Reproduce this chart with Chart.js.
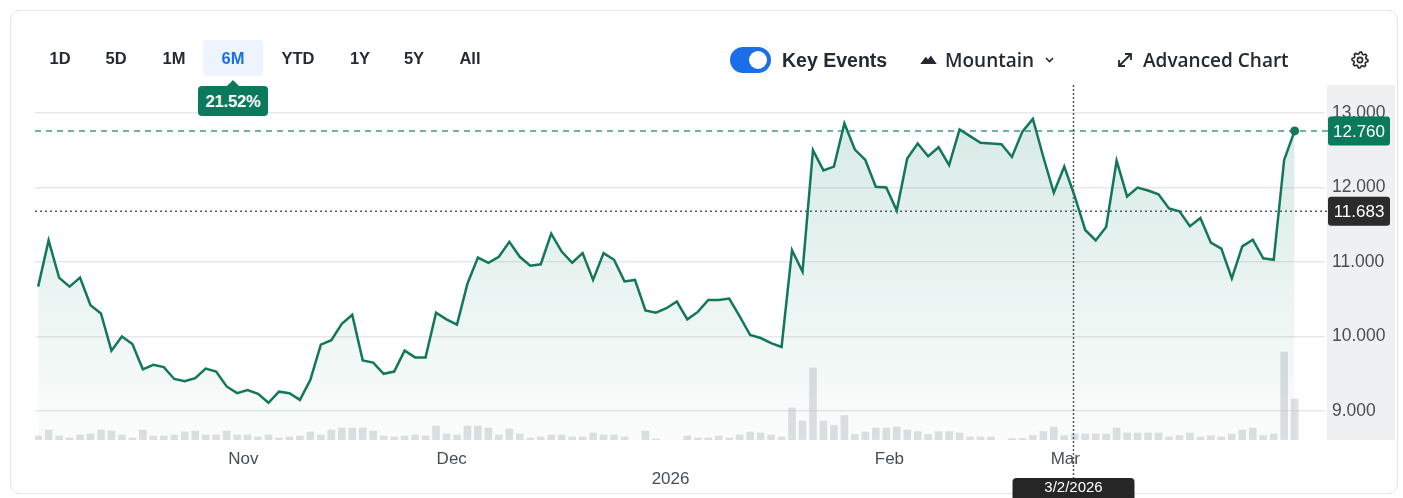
<!DOCTYPE html>
<html>
<head>
<meta charset="utf-8">
<title>6M price chart</title>
<script src="https://cdn.jsdelivr.net/npm/chart.js@4.4.1/dist/chart.umd.min.js"></script>
<style>
  html, body { margin: 0; padding: 0; background: #ffffff; }
  body { width: 1403px; height: 498px; position: relative; overflow: hidden;
         font-family: "Liberation Sans", Arial, sans-serif; color: #232a31; }
  #card { position: absolute; left: 10px; top: 10px; width: 1388px; height: 484px;
          border: 1px solid #e4e5e7; border-radius: 10px; box-sizing: border-box; }
  #chart { position: absolute; left: 0; top: 0; }
  .tab { position: absolute; top: 58px; transform: translate(-50%, -50%);
         font-weight: 700; font-size: 16.5px; white-space: nowrap; }
  #tab-active { position: absolute; left: 203px; top: 40px; width: 60px; height: 36px;
                background: #eef4fd; border-radius: 4px; }
  #badge { position: absolute; left: 198px; top: 86px; width: 70px; height: 30px;
           background: #0b7a5c; color: #fff; border-radius: 4px; font-weight: 700;
           font-size: 16.5px; line-height: 30px; text-align: center; letter-spacing: -0.2px; }
  #badge:before { content: ""; position: absolute; left: 29px; top: -6px;
                  border-left: 6px solid transparent; border-right: 6px solid transparent;
                  border-bottom: 6px solid #0b7a5c; }
  #toggle { position: absolute; left: 730px; top: 47px; width: 41px; height: 26px;
            background: #1a6ee8; border-radius: 13px; }
  #knob { position: absolute; left: 19px; top: 4px; width: 18px; height: 18px;
          background: #fff; border-radius: 50%; }
  .ctl { position: absolute; top: 60px; transform: translateY(-50%); white-space: nowrap; }
  #key { left: 782px; font-weight: 700; font-size: 19.5px; }
  #mountain { left: 945px; font-family: "Open Sans", "Liberation Sans", sans-serif; font-weight: 600; font-size: 19px; }
  #adv { left: 1143px; font-family: "Open Sans", "Liberation Sans", sans-serif; font-weight: 600; font-size: 19px; }
  svg.icon { position: absolute; overflow: visible; }
</style>
</head>
<body>
<div id="card"></div>
<canvas id="chart" width="1403" height="498"></canvas>

<div id="tab-active"></div>
<div id="tabs"></div>
<div id="badge">21.52%</div>

<div id="toggle"><div id="knob"></div></div>
<div class="ctl" id="key">Key Events</div>

<svg class="icon" style="left:920px;top:54px" width="17" height="11" viewBox="0 0 18 12">
  <path d="M0 11 L6 3 L8.5 6 L11.5 1.5 L18 11 Z" fill="#232a31"/>
</svg>
<div class="ctl" id="mountain">Mountain</div>
<svg class="icon" style="left:1045px;top:57px" width="9" height="6" viewBox="0 0 9 6">
  <polyline points="1,1 4.5,4.5 8,1" fill="none" stroke="#232a31" stroke-width="1.6"/>
</svg>

<svg class="icon" style="left:1117px;top:52px" width="16" height="16" viewBox="0 0 16 16">
  <line x1="2" y1="14" x2="14" y2="2" stroke="#232a31" stroke-width="1.8"/>
  <polyline points="8,2 14,2 14,8" fill="none" stroke="#232a31" stroke-width="1.8"/>
  <polyline points="2,8 2,14 8,14" fill="none" stroke="#232a31" stroke-width="1.8"/>
</svg>
<div class="ctl" id="adv">Advanced Chart</div>

<svg class="icon" id="gear" style="left:1351px;top:51px" width="18" height="18" viewBox="-9 -9 18 18"></svg>

<script>
// ---- Range selector ----
const rangeLabels = ['1D', '5D', '1M', '6M', 'YTD', '1Y', '5Y', 'All'];
const rangeCenters = [60, 116, 174, 233, 298, 360, 414, 470];
const activeRange = '6M';

// ---- Daily closes (trading days, last 6 months) ----
const closes = [
  10.67, 11.29, 10.79, 10.67, 10.79, 10.42, 10.31, 9.81, 10.00, 9.90,
  9.56, 9.62, 9.59, 9.43, 9.40, 9.44, 9.57, 9.53, 9.33, 9.24,
  9.28, 9.23, 9.11, 9.26, 9.24, 9.15, 9.42, 9.89, 9.95, 10.17,
  10.29, 9.68, 9.65, 9.50, 9.53, 9.81, 9.72, 9.72, 10.32, 10.23,
  10.16, 10.71, 11.06, 10.99, 11.07, 11.27, 11.07, 10.95, 10.97, 11.38,
  11.14, 10.99, 11.12, 10.76, 11.12, 11.03, 10.74, 10.76, 10.35, 10.32,
  10.38, 10.47, 10.23, 10.33, 10.49, 10.49, 10.51, 10.27, 10.02, 9.98,
  9.91, 9.86, 11.16, 10.87, 12.50, 12.23, 12.28, 12.86, 12.51, 12.37,
  12.01, 12.00, 11.69, 12.39, 12.59, 12.42, 12.54, 12.30, 12.78, 12.69,
  12.60, 12.59, 12.58, 12.41, 12.75, 12.92, 12.41, 11.93, 12.28, 11.88,
  11.43, 11.29, 11.47, 12.36, 11.88, 12.00, 11.96, 11.91, 11.72, 11.68,
  11.48, 11.59, 11.26, 11.18, 10.78, 11.21, 11.30, 11.05, 11.03, 12.37,
  12.76
];

// ---- Daily volume, millions of shares (null = no print) ----
const volumes = [
  0.04, 0.10, 0.04, 0.02, 0.05, 0.06, 0.10, 0.09, 0.05, 0.02,
  0.10, 0.04, 0.04, 0.05, 0.08, 0.09, 0.05, 0.05, 0.09, 0.05,
  0.05, 0.03, 0.05, 0.02, 0.03, 0.04, 0.08, 0.05, 0.10, 0.12,
  0.12, 0.12, 0.09, 0.04, 0.03, 0.04, 0.05, 0.04, 0.14, 0.06,
  0.05, 0.14, 0.14, 0.12, 0.05, 0.11, 0.06, 0.02, 0.03, 0.05,
  0.05, 0.03, 0.03, 0.07, 0.05, 0.05, 0.03, null, 0.09, 0.01,
  null, null, 0.04, 0.02, 0.02, 0.04, 0.02, 0.05, 0.08, 0.07,
  0.05, 0.03, 0.32, 0.19, 0.72, 0.19, 0.145, 0.245, 0.055, 0.08,
  0.12, 0.12, 0.13, 0.10, 0.085, 0.055, 0.085, 0.085, 0.07, 0.03,
  0.03, 0.03, null, 0.015, 0.015, 0.045, 0.085, 0.13, 0.045, 0.06,
  0.06, 0.06, 0.06, 0.12, 0.07, 0.07, 0.07, 0.07, 0.03, 0.045,
  0.07, 0.03, 0.045, 0.03, 0.06, 0.10, 0.12, 0.045, 0.06, 0.88,
  0.41
];

// ---- Axis ticks ----
const monthTickPos = [19.6, 39.5, 60.4, 81.3, 98.1];      // trading-day index of month starts
const monthTickLabels = ['Nov', 'Dec', '2026', 'Feb', 'Mar'];
const priceTicks = [9, 10, 11, 12, 13];

// ---- Reference values ----
const lastClose = 12.760;
const prevClose = 11.683;
const crosshairIndex = 99;
const crosshairDate = '3/2/2026';

// Build range tabs
const tabsEl = document.getElementById('tabs');
rangeLabels.forEach((t, i) => {
  const d = document.createElement('div');
  d.className = 'tab';
  d.textContent = t;
  d.style.left = rangeCenters[i] + 'px';
  if (t === activeRange) d.style.color = '#1a6ee8';
  tabsEl.appendChild(d);
});

// Settings gear outline
(function () {
  const teeth = 8, rO = 8, rI = 6.2;
  let d = '';
  for (let k = 0; k < teeth * 4; k++) {
    const a = (k / (teeth * 4)) * Math.PI * 2 - Math.PI / 2;
    const r = (k % 4 === 0 || k % 4 === 1) ? rO : rI;
    d += (k === 0 ? 'M' : 'L') + (r * Math.cos(a)).toFixed(2) + ' ' + (r * Math.sin(a)).toFixed(2) + ' ';
  }
  d += 'Z';
  const g = document.getElementById('gear');
  g.innerHTML = '<path d="' + d + '" fill="none" stroke="#232a31" stroke-width="1.6" stroke-linejoin="round"/>' +
                '<circle cx="0" cy="0" r="2.6" fill="none" stroke="#232a31" stroke-width="1.6"/>';
})();

const GREEN = '#13775b';
const AXIS_TEXT = '#464e56';
const FONT = '"Liberation Sans", Arial, sans-serif';

function roundRect(ctx, x, y, w, h, r) {
  ctx.beginPath();
  ctx.moveTo(x + r, y);
  ctx.arcTo(x + w, y, x + w, y + h, r);
  ctx.arcTo(x + w, y + h, x, y + h, r);
  ctx.arcTo(x, y + h, x, y, r);
  ctx.arcTo(x, y, x + w, y, r);
  ctx.closePath();
}

// Axis band, reference lines, crosshair and price tags
const overlays = {
  id: 'overlays',
  beforeDraw(chart) {
    const { ctx, chartArea, scales } = chart;
    ctx.save();
    ctx.fillStyle = '#eff0f2';
    ctx.fillRect(scales.y.left + 2, chartArea.top, 68, chartArea.bottom - chartArea.top);
    ctx.restore();
  },
  beforeDatasetsDraw(chart) {
    const { ctx, chartArea, scales } = chart;
    ctx.save();
    ctx.lineWidth = 1.5;
    // last close
    let y = scales.y.getPixelForValue(lastClose);
    ctx.strokeStyle = '#3f9b7f';
    ctx.setLineDash([6, 5]);
    ctx.beginPath(); ctx.moveTo(chartArea.left, y); ctx.lineTo(scales.y.left + 4, y); ctx.stroke();
    // previous close
    y = scales.y.getPixelForValue(prevClose);
    ctx.strokeStyle = '#555b61';
    ctx.setLineDash([2, 3]);
    ctx.beginPath(); ctx.moveTo(chartArea.left, y); ctx.lineTo(scales.y.left + 4, y); ctx.stroke();
    ctx.restore();
  },
  afterDraw(chart) {
    const { ctx, chartArea, scales } = chart;
    ctx.save();
    // crosshair
    const cx = Math.round(scales.x.getPixelForValue(crosshairIndex)) - 1.5;
    ctx.strokeStyle = '#50565c';
    ctx.lineWidth = 1.5;
    ctx.setLineDash([2, 2]);
    ctx.beginPath(); ctx.moveTo(cx, chartArea.top); ctx.lineTo(cx, 479); ctx.stroke();
    ctx.setLineDash([]);
    // date tag
    ctx.fillStyle = '#262626';
    roundRect(ctx, cx - 61, 478, 122, 26, 4); ctx.fill();
    ctx.fillStyle = '#ffffff';
    ctx.font = '15px ' + FONT;
    ctx.textAlign = 'center'; ctx.textBaseline = 'middle';
    ctx.fillText(crosshairDate, cx, 488);
    // price tags
    const tagX = scales.y.left + 3, tagW = 62, tagH = 29;
    const tags = [[lastClose, '#0b7a5c'], [prevClose, '#2b2b2b']];
    ctx.font = '17px ' + FONT;
    tags.forEach(([v, col]) => {
      const ty = scales.y.getPixelForValue(v);
      ctx.fillStyle = col;
      roundRect(ctx, tagX, ty - tagH / 2, tagW, tagH, 3); ctx.fill();
      ctx.fillStyle = '#ffffff';
      ctx.fillText(v.toFixed(3), tagX + tagW / 2, ty + 1);
    });
    ctx.restore();
  }
};

const ctx = document.getElementById('chart').getContext('2d');
new Chart(ctx, {
  data: {
    datasets: [
      {
        type: 'line',
        label: 'Close',
        data: closes.map((v, i) => ({ x: i, y: v })),
        yAxisID: 'y',
        borderColor: GREEN,
        borderWidth: 2.5,
        tension: 0,
        fill: 'start',
        backgroundColor: (c) => {
          const a = c.chart.chartArea;
          if (!a) return 'rgba(19,119,91,0.1)';
          const g = c.chart.ctx.createLinearGradient(0, a.top, 0, a.bottom);
          g.addColorStop(0, 'rgba(19,130,100,0.18)');
          g.addColorStop(1, 'rgba(19,130,100,0.02)');
          return g;
        },
        pointRadius: (c) => (c.dataIndex === closes.length - 1 ? 4.5 : 0),
        pointBackgroundColor: GREEN,
        pointBorderWidth: 0,
        order: 1
      },
      {
        type: 'bar',
        label: 'Volume',
        data: volumes.map((v, i) => ({ x: i, y: v })),
        yAxisID: 'v',
        backgroundColor: 'rgba(196,199,204,0.55)',
        barThickness: 7,
        order: 2
      }
    ]
  },
  options: {
    responsive: false,
    animation: false,
    devicePixelRatio: 1,
    layout: { padding: { left: 35, top: 85, right: 0, bottom: 0 } },
    plugins: { legend: { display: false }, tooltip: { enabled: false } },
    scales: {
      x: {
        type: 'linear',
        min: -0.3,
        max: 122.9,
        offset: false,
        grid: { display: false, drawTicks: false },
        border: { display: false },
        afterBuildTicks: (s) => { s.ticks = monthTickPos.map((v) => ({ value: v })); },
        afterFit: (s) => { s.height = 58; },
        ticks: {
          autoSkip: false,
          maxRotation: 0,
          padding: 9,
          color: AXIS_TEXT,
          font: { family: FONT, size: 17, lineHeight: 1.18 },
          callback: (v, i) => (/^\d{4}$/.test(monthTickLabels[i]) ? ['', monthTickLabels[i]] : monthTickLabels[i])
        }
      },
      y: {
        position: 'right',
        min: 8.611,
        max: 13.376,
        afterBuildTicks: (s) => { s.ticks = priceTicks.map((v) => ({ value: v })); },
        afterFit: (s) => { s.width = 78; },
        grid: { color: 'rgba(0,0,0,0.09)', lineWidth: 1.5, drawTicks: false },
        border: { display: false },
        ticks: {
          padding: 7,
          color: AXIS_TEXT,
          font: { family: FONT, size: 17.5 },
          callback: (v) => Number(v).toFixed(3)
        }
      },
      v: { display: false, min: 0, max: 3.55 }
    }
  },
  plugins: [overlays]
});
</script>
</body>
</html>
